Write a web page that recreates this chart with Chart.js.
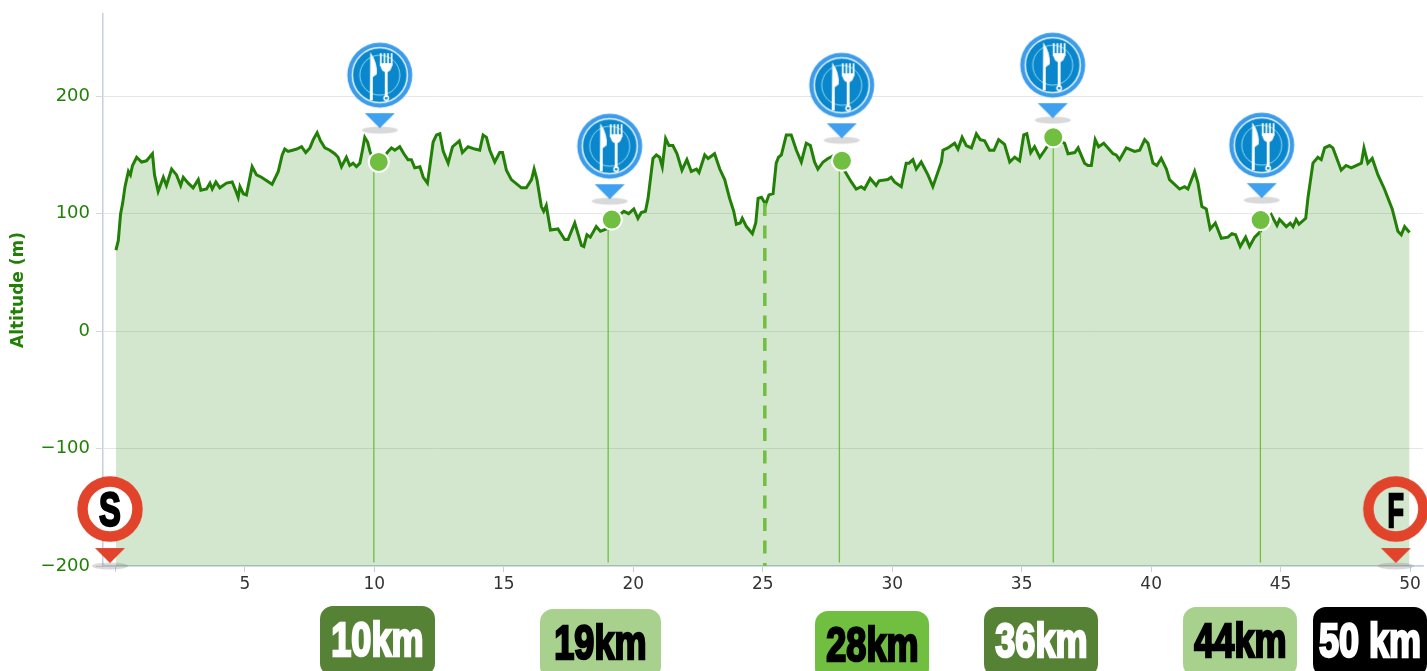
<!DOCTYPE html>
<html>
<head>
<meta charset="utf-8">
<title>Altitude profile</title>
<script src="https://cdn.jsdelivr.net/npm/chart.js@4"></script>
<style>
html, body { margin: 0; padding: 0; background: #fff; }
#wrap { position: relative; width: 1427px; height: 671px; overflow: hidden; }
canvas { display: block; }
.badge {
    position: absolute; width: 114px; height: 70px; border-radius: 13px;
    text-align: center; font: bold 48px/68px "Liberation Sans", sans-serif;
    -webkit-text-stroke: 2.6px currentColor; white-space: nowrap;
}
.badge span { display: inline-block; transform: scaleX(0.75); margin: 0 -30px; }
.pin {
    position: absolute; width: 40px; text-align: center; color: #000;
    font: bold 48px/48px "Liberation Sans", sans-serif;
    -webkit-text-stroke: 2.4px #000;
}
.pin span { display: inline-block; transform: scaleX(0.68); }
.pin.finish span { transform: scaleX(0.56); }
</style>
</head>
<body>
<div id="wrap">
    <canvas id="profileChart" width="1427" height="671"></canvas>
    <div class="pin" style="left:90px;top:486px"><span>S</span></div>
    <div class="pin finish" style="left:1376px;top:487px"><span>F</span></div>
    <div class="badge" style="left:320px;top:606px;width:115px;background:#558234;color:#fff"><span>10km</span></div>
    <div class="badge" style="left:540px;top:609px;width:121px;background:#a9d18e;color:#000"><span>19km</span></div>
    <div class="badge" style="left:815px;top:611px;background:#70bf40;color:#000"><span>28km</span></div>
    <div class="badge" style="left:984px;top:607px;background:#558234;color:#fff"><span>36km</span></div>
    <div class="badge" style="left:1183px;top:607px;background:#a9d18e;color:#000"><span>44km</span></div>
    <div class="badge" style="left:1313px;top:607px;background:#000;color:#fff"><span>50 km</span></div>
</div>
<script>
// Distance (km) and altitude (m)
const km = [
    0.02, 0.11, 0.2, 0.28, 0.37, 0.5, 0.58, 0.66, 0.82, 1.01, 1.2, 1.43, 1.51, 1.65, 1.85, 1.97, 2.17, 2.36, 2.52, 2.62,
    2.81, 3.0, 3.2, 3.3, 3.52, 3.65, 3.74, 3.88, 4.03, 4.29, 4.51, 4.64, 4.74, 4.81, 4.94, 5.06, 5.19, 5.28, 5.45, 5.64,
    6.05, 6.29, 6.44, 6.54, 6.67, 6.84, 7.0, 7.19, 7.35, 7.51, 7.64, 7.79, 7.92, 8.09, 8.28, 8.47, 8.6, 8.73, 8.92, 9.05,
    9.18, 9.31, 9.44, 9.54, 9.63, 9.74, 9.83, 10.0, 10.3, 10.53, 10.66, 10.79, 10.98, 11.14, 11.3, 11.43, 11.56, 11.76, 11.89, 12.05,
    12.14, 12.27, 12.4, 12.53, 12.66, 12.85, 13.02, 13.28, 13.4, 13.62, 13.88, 14.07, 14.2, 14.33, 14.46, 14.65, 14.84, 14.95, 15.1, 15.29,
    15.68, 15.87, 16.07, 16.17, 16.28, 16.45, 16.54, 16.64, 16.8, 17.09, 17.35, 17.48, 17.74, 18.0, 18.09, 18.21, 18.34, 18.57, 18.73, 18.96,
    19.22, 19.64, 19.82, 20.02, 20.18, 20.31, 20.47, 20.57, 20.76, 20.89, 21.02, 21.12, 21.25, 21.38, 21.53, 21.69, 21.88, 22.07, 22.24, 22.44,
    22.54, 22.76, 22.89, 23.14, 23.34, 23.53, 23.72, 23.88, 23.98, 24.13, 24.21, 24.37, 24.6, 24.73, 24.82, 24.95, 25.11, 25.24, 25.4, 25.52,
    25.61, 25.72, 25.91, 26.1, 26.3, 26.49, 26.68, 26.84, 27.0, 27.13, 27.33, 27.52, 27.8, 28.23, 28.42, 28.61, 28.8, 28.93, 29.15, 29.38,
    29.49, 29.83, 29.96, 30.09, 30.35, 30.54, 30.65, 30.8, 30.93, 31.12, 31.38, 31.57, 31.9, 31.96, 32.15, 32.41, 32.54, 32.7, 32.86, 33.06,
    33.25, 33.4, 33.57, 33.76, 33.93, 34.11, 34.34, 34.54, 34.73, 34.92, 35.08, 35.2, 35.35, 35.5, 35.7, 35.89, 36.22, 36.66, 36.79, 37.05,
    37.18, 37.43, 37.56, 37.69, 37.84, 37.97, 38.17, 38.53, 38.65, 38.78, 39.04, 39.36, 39.56, 39.75, 39.88, 40.07, 40.22, 40.39, 40.59, 40.71,
    41.1, 41.29, 41.42, 41.68, 41.81, 41.96, 42.13, 42.28, 42.48, 42.71, 42.97, 43.12, 43.26, 43.44, 43.65, 43.8, 44.0, 44.19, 44.4, 44.64,
    44.86, 44.96, 45.22, 45.37, 45.48, 45.6, 45.71, 45.97, 46.06, 46.25, 46.44, 46.57, 46.7, 46.89, 47.02, 47.34, 47.53, 47.73, 48.12, 48.22,
    48.37, 48.54, 48.76, 49.01, 49.31, 49.53, 49.66, 49.79, 49.98
];
const altitude = [
    69, 77, 100, 109, 123, 136, 133, 141, 148, 144, 145, 151, 133, 119, 131, 124, 138, 133, 124, 131,
    126, 122, 129, 120, 121, 126, 121, 127, 122, 126, 127, 120, 114, 123, 117, 116, 130, 140, 133, 131,
    125, 136, 150, 155, 153, 154, 155, 157, 152, 156, 163, 169, 162, 156, 154, 151, 148, 140, 148, 141,
    143, 140, 143, 154, 165, 161, 153, 143, 146, 153, 156, 154, 157, 151, 146, 146, 139, 140, 131, 126,
    140, 161, 167, 168, 153, 143, 157, 162, 152, 157, 155, 154, 167, 165, 154, 144, 152, 152, 137, 129,
    122, 122, 129, 138, 129, 106, 102, 107, 86, 87, 78, 78, 92, 73, 72, 82, 80, 89, 85, 87,
    95, 102, 100, 104, 96, 101, 102, 113, 147, 150, 148, 140, 164, 158, 158, 151, 137, 146, 136, 138,
    135, 150, 147, 151, 138, 129, 113, 102, 91, 92, 96, 89, 83, 92, 113, 114, 108, 116, 117, 143,
    148, 150, 167, 167, 154, 144, 160, 158, 144, 138, 144, 147, 150, 134, 127, 121, 123, 121, 130, 124,
    128, 129, 131, 127, 123, 143, 143, 146, 138, 144, 133, 123, 144, 154, 156, 160, 155, 165, 158, 156,
    168, 163, 162, 154, 154, 163, 159, 144, 148, 145, 167, 168, 152, 157, 148, 154, 165, 160, 151, 152,
    156, 143, 141, 141, 163, 157, 160, 151, 150, 146, 156, 153, 154, 163, 160, 143, 141, 147, 138, 129,
    121, 123, 121, 136, 126, 106, 104, 87, 92, 79, 80, 83, 82, 72, 80, 72, 80, 84, 92, 99,
    90, 95, 89, 92, 89, 95, 91, 96, 114, 143, 148, 146, 156, 158, 156, 137, 141, 139, 143, 156,
    143, 147, 133, 121, 104, 85, 82, 89, 84
];

// Aid stations: drop line position and marker position
const dropKm = [9.98, 19.03, 27.96, 36.22, 44.22];
const markerKm = [10.17, 19.17, 28.06, 36.22, 44.23];
const markerAlt = [144, 95, 145, 165, 94.5];
const dropBase = -197;

// Food icons, start and finish pins
const iconKm = [10.21, 19.09, 28.05, 36.2, 44.27];
const iconAlt = [206, 145.5, 197.4, 214.5, 146.4];
const pinKm = [-0.21, 49.45];
const pinAlt = [-163.4, -163.4];

// Halfway mark
const halfKm = [25.08, 25.08];
const halfAlt = [109, -200];

const xTicks = [0, 5, 10, 15, 20, 25, 30, 35, 40, 45, 50];
const yTicks = [-200, -100, 0, 100, 200];

const toPoints = (xs, ys) => xs.map((x, i) => ({ x: x, y: ys[i] }));

function markerShadow(ctx, cy) {
    ctx.fillStyle = 'rgba(120,120,120,0.28)';
    ctx.beginPath();
    ctx.ellipse(35, cy, 18, 3.5, 0, 0, Math.PI * 2);
    ctx.fill();
}

function makeIcon() {
    const c = document.createElement('canvas');
    c.width = 70; c.height = 96;
    const ctx = c.getContext('2d');
    const cx = 35, cy = 34;
    ctx.fillStyle = '#3c9cea';
    ctx.beginPath(); ctx.arc(cx, cy, 32.5, 0, Math.PI * 2); ctx.fill();
    ctx.fillStyle = '#0a86cc';
    ctx.strokeStyle = '#e8f6fb';
    ctx.lineWidth = 1.5;
    ctx.beginPath(); ctx.arc(cx, cy, 27.5, 0, Math.PI * 2); ctx.fill(); ctx.stroke();
    ctx.strokeStyle = '#8fdcef';
    ctx.lineWidth = 1;
    ctx.beginPath(); ctx.arc(cx, cy, 20, 0, Math.PI * 2); ctx.stroke();

    // knife
    ctx.fillStyle = '#fff';
    ctx.beginPath();
    ctx.moveTo(cx - 9.5, cy - 23);
    ctx.quadraticCurveTo(cx - 2, cy - 12, cx - 3, cy - 1);
    ctx.lineTo(cx - 7, cy + 2);
    ctx.lineTo(cx - 7, cy + 25);
    ctx.lineTo(cx - 10, cy + 25);
    ctx.closePath();
    ctx.fill();

    // fork
    ctx.strokeStyle = '#fff';
    ctx.lineWidth = 1.7;
    [0, 1, 2, 3].forEach(function (i) {
        const tx = cx + 1 + i * 3.6;
        ctx.beginPath(); ctx.moveTo(tx, cy - 22); ctx.lineTo(tx, cy - 9); ctx.stroke();
    });
    ctx.beginPath();
    ctx.moveTo(cx + 0.2, cy - 12);
    ctx.quadraticCurveTo(cx + 1, cy - 3, cx + 6.4, cy - 3);
    ctx.quadraticCurveTo(cx + 11.8, cy - 3, cx + 12.6, cy - 12);
    ctx.closePath();
    ctx.fillStyle = '#fff';
    ctx.fill();
    ctx.fillRect(cx + 5, cy - 4, 2.8, 26);
    ctx.lineWidth = 1.5;
    ctx.beginPath(); ctx.arc(cx + 6.4, cy + 23, 2.2, 0, Math.PI * 2); ctx.stroke();

    // pointer
    ctx.fillStyle = '#3fa0f0';
    ctx.beginPath();
    ctx.moveTo(cx - 15, cy + 38);
    ctx.lineTo(cx + 15, cy + 38);
    ctx.lineTo(cx, cy + 53);
    ctx.closePath();
    ctx.fill();
    markerShadow(ctx, cy + 55);
    return c;
}

function makePin(innerFill) {
    const c = document.createElement('canvas');
    c.width = 70; c.height = 94;
    const ctx = c.getContext('2d');
    const cx = 35, cy = 33;
    markerShadow(ctx, 90);
    ctx.beginPath();
    ctx.arc(cx, cy, 27.5, 0, Math.PI * 2);
    if (innerFill) { ctx.fillStyle = innerFill; ctx.fill(); }
    ctx.strokeStyle = '#e2432b';
    ctx.lineWidth = 10.5;
    ctx.stroke();
    ctx.fillStyle = '#e2432b';
    ctx.beginPath();
    ctx.moveTo(cx - 15, cy + 39);
    ctx.lineTo(cx + 15, cy + 39);
    ctx.lineTo(cx, cy + 54);
    ctx.closePath();
    ctx.fill();
    return c;
}

const foodIcon = makeIcon();

const dropLines = dropKm.map(function (x, i) {
    return {
        data: [{ x: x, y: markerAlt[i] }, { x: x, y: dropBase }],
        borderColor: '#70bf40',
        borderWidth: 1.3,
        pointRadius: 0,
        order: 3
    };
});

new Chart(document.getElementById('profileChart'), {
    type: 'line',
    data: {
        datasets: [
            {
                label: 'Altitude',
                data: toPoints(km, altitude),
                borderColor: '#228007',
                borderWidth: 3,
                backgroundColor: 'rgba(34,128,8,0.2)',
                fill: 'start',
                pointRadius: 0,
                tension: 0,
                order: 4
            },
            {
                data: toPoints(halfKm, halfAlt),
                borderColor: '#70bf40',
                borderWidth: 3.5,
                borderDash: [13, 9.5],
                pointRadius: 0,
                order: 3
            },
            ...dropLines,
            {
                data: toPoints(markerKm, markerAlt),
                showLine: false,
                pointRadius: 10,
                pointBackgroundColor: '#70bf40',
                pointBorderColor: '#fff',
                pointBorderWidth: 2,
                order: 2
            },
            {
                data: toPoints(iconKm, iconAlt),
                showLine: false,
                pointStyle: foodIcon,
                pointRadius: 1,
                clip: false,
                order: 1
            },
            {
                data: toPoints(pinKm, pinAlt),
                showLine: false,
                pointStyle: [makePin('#fff'), makePin(null)],
                pointRadius: 1,
                clip: false,
                order: 1
            }
        ]
    },
    options: {
        responsive: false,
        animation: false,
        layout: { autoPadding: false, padding: { top: 14, right: 4 } },
        plugins: { legend: { display: false }, tooltip: { enabled: false } },
        scales: {
            x: {
                type: 'linear',
                min: -0.48,
                max: 50.5,
                afterBuildTicks: function (scale) { scale.ticks = xTicks.map(v => ({ value: v })); },
                afterFit: function (scale) {
                    scale.height = 105;
                    // keep the end labels from pulling the plot area in
                    scale.paddingLeft = 0;
                    scale.paddingRight = 0;
                },
                border: { color: '#c0d0e0', width: 1.5 },
                grid: { drawOnChartArea: false, drawTicks: true, tickLength: 6, tickColor: '#c0d0e0' },
                ticks: {
                    autoSkip: false,
                    maxRotation: 0,
                    padding: 2,
                    color: '#333',
                    font: { family: 'DejaVu Sans', size: 17 },
                    callback: function (value) { return value === 0 ? '' : String(value); }
                }
            },
            y: {
                min: -200,
                max: 270,
                afterBuildTicks: function (scale) { scale.ticks = yTicks.map(v => ({ value: v })); },
                afterFit: function (scale) {
                    scale.width = 103;
                    scale.paddingTop = 0;
                    scale.paddingBottom = 0;
                },
                border: { color: '#c0d0e0', width: 1.5 },
                grid: { color: '#e6e6e6', tickLength: 7, tickColor: '#d8d8d8' },
                title: {
                    display: true,
                    text: 'Altitude (m)',
                    color: '#228007',
                    font: { family: 'DejaVu Sans', size: 17, weight: 'bold' },
                    padding: { top: 8, bottom: 0 }
                },
                ticks: {
                    padding: 6,
                    color: '#228007',
                    font: { family: 'DejaVu Sans', size: 18 },
                    callback: function (value) { return String(value).replace('-', '\u2212'); }
                }
            }
        }
    }
});
</script>
</body>
</html>
